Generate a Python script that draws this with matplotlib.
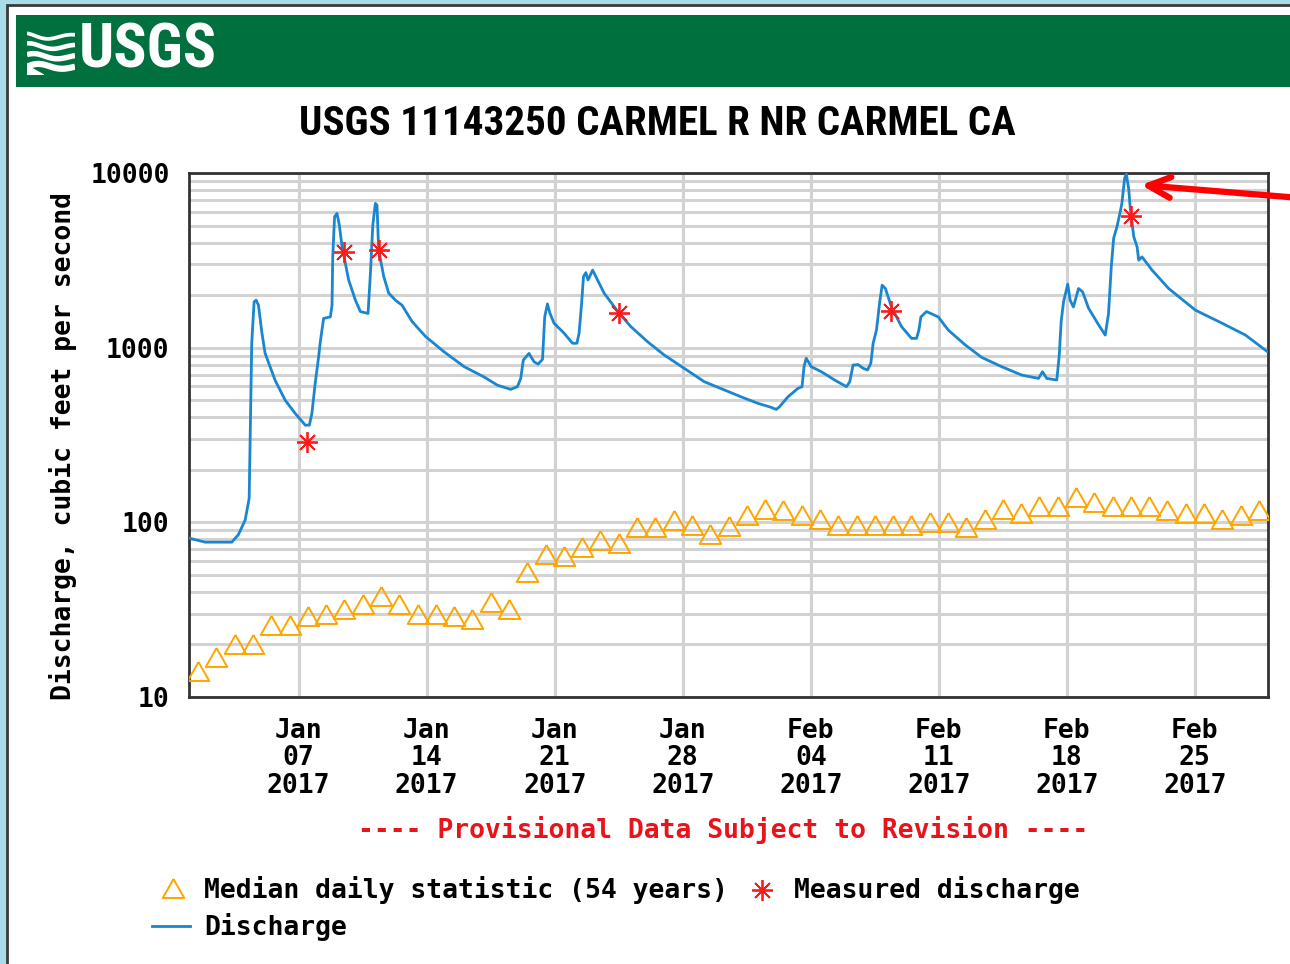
import numpy as np
import matplotlib.pyplot as plt
from matplotlib.lines import Line2D
from matplotlib.patches import Rectangle
from matplotlib.ticker import LogLocator, NullFormatter
from datetime import date, timedelta

W, H = 1290, 964
def fx(x): return x / W
def fy(y): return 1 - y / H

start = date(2017, 1, 1)

# median daily statistic (54 years), one per day Jan 1 .. Feb 28
median_cfs = [14, 17, 20, 20, 26, 26, 29, 30, 32, 34,
              38, 34, 30, 30, 29, 28, 35, 32, 52, 66,
              64, 72, 79, 76, 94, 94, 103, 97, 86, 95,
              110, 120, 117, 110, 104, 97, 97, 97, 97, 97,
              101, 101, 94, 104, 119, 113, 124, 124, 139, 131,
              124, 124, 124, 117, 113, 113, 104, 110, 117]
median_day = np.arange(len(median_cfs)) + 0.5

# discharge (days since Jan 1 2017 00:00, cfs)
q_day = [0.05, 0.88, 2.34, 2.70, 3.07, 3.29, 3.43, 3.56, 3.67, 3.80,
         3.98, 4.16, 4.71, 5.26, 5.81, 6.36, 6.58, 6.72, 6.90, 7.09,
         7.18, 7.36, 7.73, 7.82, 7.86, 7.96, 8.09, 8.22, 8.37, 8.73,
         9.10, 9.37, 9.79, 9.92, 10.05, 10.19, 10.28, 10.37, 10.65, 10.92,
         11.29, 11.65, 12.20, 12.93, 13.93, 15.03, 16.13, 16.86, 17.59, 17.96,
         18.14, 18.28, 18.59, 18.87, 19.09, 19.33, 19.45, 19.60, 19.74, 19.96,
         20.51, 20.97, 21.21, 21.33, 21.46, 21.57, 21.70, 21.82, 22.07, 22.34,
         22.70, 23.53, 24.16, 25.08, 25.99, 27.09, 28.18, 29.28, 30.19, 31.11,
         31.84, 32.11, 32.29, 32.75, 33.30, 33.52, 33.63, 33.75, 34.03, 34.58,
         35.30, 35.95, 36.13, 36.31, 36.59, 36.86, 37.10, 37.28, 37.41, 37.59,
         37.77, 37.90, 38.08, 38.41, 38.96, 39.51, 39.78, 39.91, 40.02, 40.33,
         40.97, 41.52, 42.43, 43.34, 44.44, 45.53, 46.45, 46.67, 46.90, 47.45,
         47.58, 47.69, 47.82, 48.05, 48.18, 48.36, 48.64, 48.86, 49.19, 49.74,
         50.10, 50.28, 50.43, 50.56, 50.74, 50.92, 51.01, 51.16, 51.25, 51.38,
         51.47, 51.66, 51.84, 51.93, 52.11, 52.66, 53.57, 55.03, 56.49, 57.77,
         58.96]
q_cfs = [81, 77, 77, 85, 103, 137, 1060, 1830, 1870, 1750,
         1230, 930, 650, 500, 420, 360, 360, 420, 625, 890,
         1080, 1470, 1500, 1750, 3310, 5610, 5870, 5030, 3780, 2440,
         1870, 1610, 1570, 2660, 5030, 6700, 6550, 3630, 2550, 2050,
         1870, 1750, 1410, 1160, 950, 780, 680, 610, 577, 598,
         667, 849, 927, 830, 805, 857, 1500, 1780, 1570, 1380,
         1210, 1060, 1060, 1210, 1750, 2550, 2690, 2440, 2780, 2440,
         2050, 1570, 1320, 1080, 907, 760, 638, 572, 523, 480,
         455, 443, 459, 523, 585, 598, 778, 869, 778, 728,
         653, 598, 638, 795, 800, 762, 745, 813, 1060, 1260,
         1830, 2280, 2180, 1710, 1320, 1130, 1130, 1260, 1500, 1610,
         1500, 1260, 1040, 880, 778, 697, 667, 728, 667, 653,
         887, 1410, 1830, 2310, 1870, 1710, 2180, 2090, 1680, 1350,
         1180, 1570, 2900, 4230, 4920, 6000, 6700, 9310, 9900, 8170,
         6270, 4320, 3780, 3170, 3310, 2780, 2180, 1640, 1380, 1180,
         950]

# measured discharge
meas_day = [6.47, 8.49, 10.41, 23.51, 38.41, 51.51]
meas_cfs = [290, 3530, 3625, 1580, 1620, 5640]

tick_days = [6, 13, 20, 27, 34, 41, 48, 55]
tick_labels = [(start + timedelta(days=d)).strftime('%b\n%d\n%Y') for d in tick_days]

mono = ['DejaVu Sans Mono']
narrow = ['Roboto Condensed', 'PT Sans Narrow', 'DejaVu Sans']
FS = 19
BLUE = '#1a86cf'
ORANGE = '#ffa500'
RED = '#ff1a1a'
tri = [[0, 0.88], [-1, -0.88], [1, -0.88], [0, 0.88]]

fig = plt.figure(figsize=(12.9, 9.64), dpi=100)
fig.patches.append(Rectangle((0, 0), 1, 1, transform=fig.transFigure,
                             facecolor='#a9dbe8', edgecolor='none', zorder=-10))
fig.patches.append(Rectangle((fx(7), -0.02), 1, fy(5) + 0.02, transform=fig.transFigure,
                             facecolor='white', edgecolor='#3a3a3a', lw=2, zorder=-9))
# header banner
fig.patches.append(Rectangle((fx(16), fy(87)), 1, 72 / H, transform=fig.transFigure,
                             facecolor='#00703f', edgecolor='none', zorder=-8))
fig.text(fx(79), fy(51), 'USGS', color='white', fontsize=44.5, fontweight='bold',
         family=narrow, stretch='condensed', ha='left', va='center')
logo = fig.add_axes([fx(27), fy(75), 48 / W, 46 / H])
logo.set_axis_off()
logo.set_xlim(0, 1)
logo.set_ylim(0, 1)
t = np.linspace(0, 1, 60)
for k, off in enumerate([0.18, 0.40, 0.62, 0.84]):
    logo.plot(t, off + 0.07 * np.sin(2 * np.pi * (t + 0.1 * k)) * (1 - 0.5 * t),
              color='white', lw=4.5 - 0.6 * k, solid_capstyle='butt')
logo.fill([0, 0, 0.35], [0, 0.2, 0], color='white')

fig.text(fx(657), fy(124), 'USGS 11143250 CARMEL R NR CARMEL CA', fontsize=29.5,
         fontweight='bold', family=narrow, stretch='condensed', ha='center', va='center')

ax = fig.add_axes([fx(189), fy(697), (1268 - 189) / W, (697 - 173) / H])
ax.set_yscale('log')
ax.set_xlim(0, 59)
ax.set_ylim(10, 10000)

ax.plot(median_day, median_cfs, linestyle='none', marker=tri, markersize=15.5,
        markerfacecolor='none', markeredgecolor=ORANGE, markeredgewidth=1.4, zorder=3)
ax.plot(q_day, q_cfs, color=BLUE, lw=2.0, zorder=4)
ax.plot(meas_day, meas_cfs, linestyle='none', marker=(8, 2, 0), markersize=15,
        color=RED, markeredgewidth=1.3, zorder=5)

ax.set_yticks([10, 100, 1000, 10000])
ax.set_yticklabels(['10', '100', '1000', '10000'])
ax.yaxis.set_minor_locator(LogLocator(base=10, subs=np.arange(2, 10)))
ax.yaxis.set_minor_formatter(NullFormatter())
ax.set_xticks(tick_days)
ax.set_xticklabels(tick_labels, linespacing=1.08)
ax.grid(which='both', axis='y', color='#d2d2d2', lw=2.2)
ax.grid(which='major', axis='x', color='#d2d2d2', lw=2.2)
ax.tick_params(which='both', length=0)
ax.tick_params(axis='y', pad=14)
ax.tick_params(axis='x', pad=15)
for lab in ax.get_xticklabels() + ax.get_yticklabels():
    lab.set_family(mono)
    lab.set_fontweight('bold')
    lab.set_fontsize(FS)
for s in ax.spines.values():
    s.set_color('#333333')
    s.set_linewidth(2)

fig.text(fx(63), fy(446), 'Discharge, cubic feet per second', rotation=90,
         family=mono, fontweight='bold', fontsize=FS, ha='center', va='center')
fig.text(fx(723), fy(830), '---- Provisional Data Subject to Revision ----',
         color='#e8141b', family=mono, fontweight='bold', fontsize=FS,
         ha='center', va='center')

# legend
fig.add_artist(Line2D([fx(173)], [fy(888)], marker=tri, markersize=15.5, linestyle='none',
                      markerfacecolor='none', markeredgecolor=ORANGE, markeredgewidth=1.4))
fig.text(fx(204), fy(890), 'Median daily statistic (54 years)', family=mono,
         fontweight='bold', fontsize=FS, va='center')
fig.add_artist(Line2D([fx(762)], [fy(890)], marker=(8, 2, 0), markersize=15,
                      linestyle='none', color=RED, markeredgewidth=1.3))
fig.text(fx(794), fy(890), 'Measured discharge', family=mono,
         fontweight='bold', fontsize=FS, va='center')
fig.add_artist(Line2D([fx(152), fx(190)], [fy(926), fy(926)], color=BLUE, lw=2.0))
fig.text(fx(204), fy(927), 'Discharge', family=mono,
         fontweight='bold', fontsize=FS, va='center')

# red pointer arrow to the peak
ax.annotate('', xy=(fx(1141), fy(185)), xycoords='figure fraction',
            xytext=(fx(1300), fy(198)), textcoords='figure fraction',
            arrowprops=dict(arrowstyle='->,head_length=1.6,head_width=0.75',
                            color='#ff0000', lw=4.5, shrinkA=0, shrinkB=0,
                            mutation_scale=10),
            annotation_clip=False)

fig.savefig('out.png', dpi=100)
